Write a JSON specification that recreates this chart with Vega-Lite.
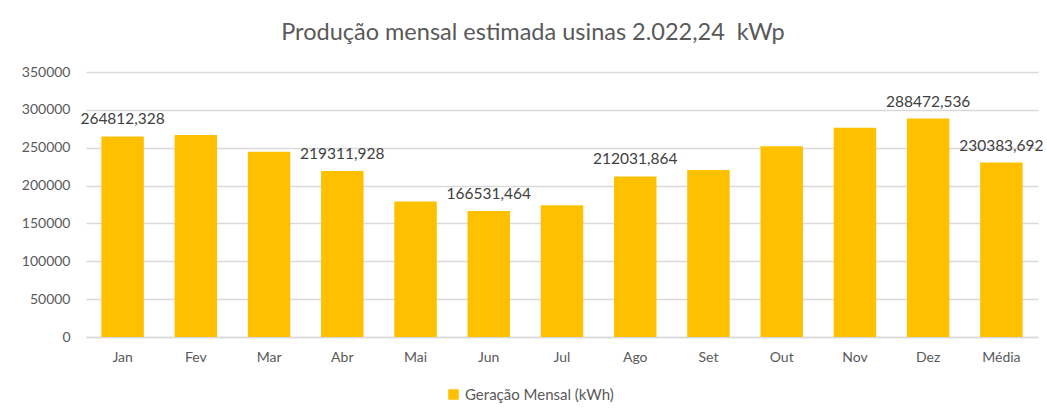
{
  "$schema": "https://vega.github.io/schema/vega-lite/v6.json",
  "width": 952,
  "height": 265,
  "autosize": "none",
  "padding": {"left": 86, "top": 72, "right": 9, "bottom": 81},
  "background": "white",
  "config": {
    "view": {"stroke": null},
    "font": "Lato",
    "locale": {"number": {"decimal": ",", "thousands": ".", "grouping": [3], "currency": ["R$", ""]}}
  },
  "title": {
    "text": "Produção mensal estimada usinas 2.022,24 \u00a0kWp",
    "fontSize": 23.5,
    "fontWeight": "normal",
    "color": "#595959",
    "offset": 21,
    "dx": -29,
    "anchor": "middle"
  },
  "data": {
    "values": [
      {"mes": "Jan", "geracao": 264812.328},
      {"mes": "Fev", "geracao": 266700},
      {"mes": "Mar", "geracao": 244600},
      {"mes": "Abr", "geracao": 219311.928},
      {"mes": "Mai", "geracao": 178950},
      {"mes": "Jun", "geracao": 166531.464},
      {"mes": "Jul", "geracao": 174150},
      {"mes": "Ago", "geracao": 212031.864},
      {"mes": "Set", "geracao": 220600},
      {"mes": "Out", "geracao": 252050},
      {"mes": "Nov", "geracao": 276394.18},
      {"mes": "Dez", "geracao": 288472.536},
      {"mes": "Média", "geracao": 230383.692}
    ]
  },
  "encoding": {
    "x": {
      "field": "mes",
      "type": "nominal",
      "sort": null,
      "title": null,
      "scale": {"paddingInner": 0.42, "paddingOuter": 0.21},
      "axis": {
        "labelAngle": 0,
        "labelFontSize": 14,
        "labelColor": "#595959",
        "labelPadding": 13,
        "ticks": false,
        "tickSize": 0,
        "domainColor": "#d9d9d9",
        "domainWidth": 1.3
      }
    },
    "y": {
      "field": "geracao",
      "type": "quantitative",
      "title": null,
      "scale": {"domain": [0, 350000], "nice": false},
      "axis": {
        "values": [0, 50000, 100000, 150000, 200000, 250000, 300000, 350000],
        "format": "d",
        "labelFontSize": 14,
        "labelColor": "#595959",
        "labelPadding": 16,
        "ticks": false,
        "tickSize": 0,
        "domain": false,
        "gridColor": "#d9d9d9",
        "gridWidth": 1.3
      }
    }
  },
  "layer": [
    {
      "mark": {"type": "bar"},
      "encoding": {
        "color": {
          "datum": "Geração Mensal (kWh)",
          "type": "nominal",
          "scale": {"range": ["#FFC000"]},
          "legend": {
            "title": null,
            "orient": "none",
            "legendX": 360,
            "legendY": 315,
            "symbolType": "square",
            "symbolSize": 110,
            "symbolStrokeWidth": 0,
            "labelFontSize": 15,
            "labelColor": "#595959",
            "labelOffset": 4
          }
        }
      }
    },
    {
      "transform": [{"filter": "indexof(['Jan','Abr','Jun','Ago','Dez','Média'], datum.mes) >= 0"}],
      "mark": {"type": "text", "baseline": "alphabetic", "dy": -12, "fontSize": 15.5, "color": "#404040"},
      "encoding": {
        "text": {"field": "geracao", "type": "quantitative", "format": ".3f"}
      }
    }
  ]
}
